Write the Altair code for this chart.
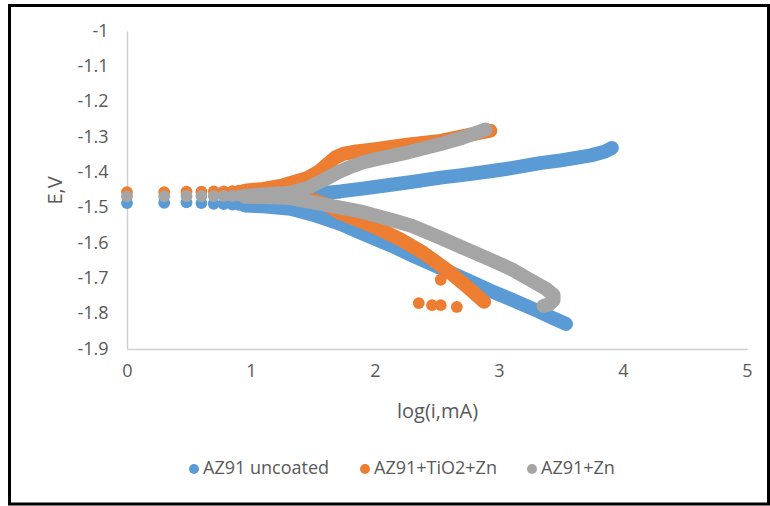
import altair as alt
import pandas as pd

SERIES = ["AZ91 uncoated", "AZ91+TiO2+Zn", "AZ91+Zn"]
COLORS = ["#5B9BD5", "#ED7D31", "#A5A5A5"]

X_TICKS = [0, 1, 2, 3, 4, 5]
Y_TICKS = [-1.9, -1.8, -1.7, -1.6, -1.5, -1.4, -1.3, -1.2, -1.1, -1.0]

# discrete low-current points (log i)
disc_x = [0.0, 0.30, 0.48, 0.60, 0.70, 0.78, 0.85, 0.90]
blue_disc_y = [-1.487, -1.486, -1.485, -1.487, -1.489, -1.490, -1.491, -1.492]
orange_disc_y = [-1.456, -1.456, -1.455, -1.455, -1.454, -1.454, -1.453, -1.452]
gray_disc_y = [-1.468, -1.468, -1.467, -1.467, -1.467, -1.467, -1.467, -1.466]

# AZ91 uncoated
blue_an_x = [0.95, 1.1, 1.25, 1.32, 1.5, 1.72, 1.9, 2.13, 2.3, 2.53, 2.7, 2.93, 3.1, 3.33, 3.5, 3.74, 3.85, 3.91]
blue_an_y = [-1.492, -1.485, -1.474, -1.468, -1.462, -1.454, -1.446, -1.435, -1.427, -1.415, -1.408, -1.397, -1.388, -1.374, -1.366, -1.352, -1.342, -1.331]
blue_ca_x = [0.95, 1.1, 1.32, 1.5, 1.72, 1.9, 2.13, 2.3, 2.53, 2.7, 2.93, 3.1, 3.33, 3.45, 3.54]
blue_ca_y = [-1.494, -1.496, -1.503, -1.52, -1.546, -1.573, -1.607, -1.635, -1.671, -1.698, -1.735, -1.76, -1.795, -1.815, -1.829]

# AZ91+TiO2+Zn
orange_an_x = [0.95, 1.1, 1.25, 1.32, 1.45, 1.55, 1.62, 1.68, 1.75, 1.85, 1.99, 2.26, 2.53, 2.79, 2.93]
orange_an_y = [-1.452, -1.447, -1.438, -1.43, -1.417, -1.397, -1.376, -1.358, -1.347, -1.341, -1.335, -1.322, -1.311, -1.292, -1.282]
orange_ca_x = [0.95, 1.2, 1.45, 1.6, 1.72, 1.99, 2.21, 2.39, 2.58, 2.74, 2.88]
orange_ca_y = [-1.455, -1.46, -1.472, -1.49, -1.515, -1.553, -1.591, -1.628, -1.676, -1.723, -1.766]
orange_extra_x = [2.53, 2.353, 2.46, 2.53, 2.66]
orange_extra_y = [-1.704, -1.770, -1.776, -1.776, -1.781]

# AZ91+Zn
gray_an_x = [0.95, 1.1, 1.32, 1.45, 1.59, 1.7, 1.8, 1.9, 2.02, 2.26, 2.53, 2.7, 2.8, 2.89]
gray_an_y = [-1.466, -1.463, -1.458, -1.445, -1.421, -1.4, -1.385, -1.372, -1.362, -1.344, -1.32, -1.303, -1.29, -1.279]
gray_ca_x = [0.95, 1.1, 1.32, 1.5, 1.72, 1.9, 2.13, 2.3, 2.53, 2.7, 2.93, 3.1, 3.25, 3.38, 3.44, 3.44, 3.41, 3.36]
gray_ca_y = [-1.469, -1.47, -1.473, -1.485, -1.50, -1.512, -1.534, -1.552, -1.586, -1.612, -1.647, -1.674, -1.704, -1.73, -1.747, -1.762, -1.772, -1.778]


def branch_df(series, branch, xs, ys):
    return pd.DataFrame({"series": series, "branch": branch,
                         "idx": list(range(len(xs))), "x": xs, "y": ys})


def points_df(series, xs, ys):
    return pd.DataFrame({"series": series, "x": xs, "y": ys})


FONT = "Open Sans"
LABEL_COLOR = "#595959"

x_enc = alt.X("x:Q", scale=alt.Scale(domain=[0, 5], nice=False, zero=False),
              axis=alt.Axis(values=X_TICKS, title="log(i,mA)", grid=False, ticks=False, tickSize=0,
                            domainColor="#D0D0D0", domainWidth=1.5, labelFlush=False,
                            labelFont=FONT, labelFontSize=18, labelColor=LABEL_COLOR, labelPadding=13,
                            titleFont=FONT, titleFontSize=20, titleFontWeight="normal",
                            titleColor=LABEL_COLOR, titleX=310, titleY=62,
                            titleBaseline="middle", titleAlign="center"))
y_enc = alt.Y("y:Q", scale=alt.Scale(domain=[-1.9, -1.0], nice=False, zero=False),
              axis=alt.Axis(values=Y_TICKS, title="E,V", grid=False, ticks=False, tickSize=0,
                            domainColor="#D0D0D0", domainWidth=1.5, labelFlush=False,
                            labelExpr="(datum.value < 0 ? '-' : '') + format(abs(datum.value), '~g')",
                            labelFont=FONT, labelFontSize=18, labelColor=LABEL_COLOR, labelPadding=19,
                            titleFont=FONT, titleFontSize=20, titleFontWeight="normal",
                            titleColor=LABEL_COLOR, titleX=-72, titleY=159,
                            titleBaseline="middle", titleAlign="center", titleAngle=270))

legend = alt.Legend(title=None, orient="none", legendX=58, legendY=429, direction="horizontal",
                    symbolType="circle", symbolSize=100, symbolStrokeWidth=0,
                    labelFont=FONT, labelFontSize=18, labelColor=LABEL_COLOR,
                    labelOffset=0, columnPadding=26, padding=0)
color_enc = alt.Color("series:N", scale=alt.Scale(domain=SERIES, range=COLORS), legend=legend)

LINE_W = 14
PT_SIZE = 140

layers = []
spec = [
    (0, [("an", blue_an_x, blue_an_y), ("ca", blue_ca_x, blue_ca_y)], disc_x, blue_disc_y),
    (1, [("an", orange_an_x, orange_an_y), ("ca", orange_ca_x, orange_ca_y)],
     disc_x + orange_extra_x, orange_disc_y + orange_extra_y),
    (2, [("an", gray_an_x, gray_an_y), ("ca", gray_ca_x, gray_ca_y)], disc_x, gray_disc_y),
]
for k, branches, px, py in spec:
    s = SERIES[k]
    ldf = pd.concat([branch_df(s, b, bx, by) for b, bx, by in branches], ignore_index=True)
    line = alt.Chart(ldf).mark_line(strokeWidth=LINE_W, strokeCap="round", strokeJoin="round",
                                    color=COLORS[k]).encode(
        x=x_enc, y=y_enc, detail="branch:N", order="idx:Q")
    pts = alt.Chart(points_df(s, px, py)).mark_circle(size=PT_SIZE, opacity=1).encode(
        x=x_enc, y=y_enc, color=color_enc)
    layers += [line, pts]

frame = alt.Chart(alt.Data(values=[{"a": 1}])).mark_rect(
    fill=None, stroke="#000000", strokeWidth=3, clip=False).encode(
    x=alt.value(-117.5), x2=alt.value(641.5), y=alt.value(-25.5), y2=alt.value(473))

chart = alt.layer(*layers, frame).properties(
    width=620, height=318,
    padding={"left": 127, "top": 31, "right": 23, "bottom": 157},
    autosize=alt.AutoSizeParams(type="none"),
    background="white",
).configure_view(stroke=None)

chart.save("out.html", embed_options={"renderer": "svg", "actions": False})
